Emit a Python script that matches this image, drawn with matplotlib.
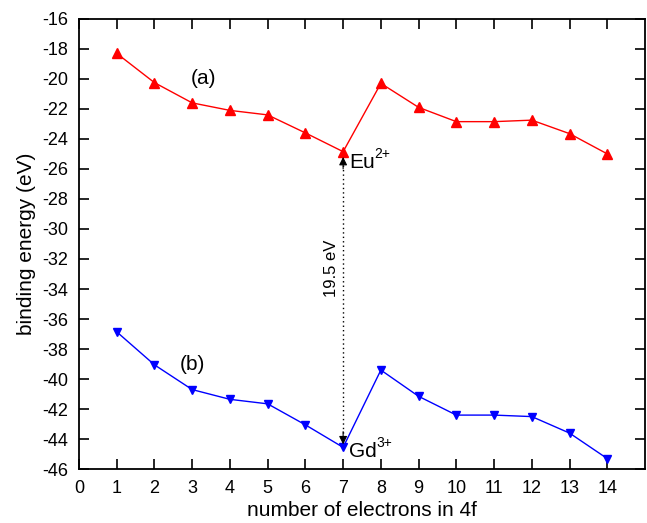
import numpy as np
import matplotlib.pyplot as plt

plt.rcParams['font.family'] = ['Liberation Sans', 'DejaVu Sans']
plt.rcParams['axes.unicode_minus'] = False

# number of electrons in 4f
n_4f = list(range(1, 15))
# (a) Eu2+ series
eu_energy = [-18.3, -20.25, -21.6, -22.1, -22.4, -23.6, -24.85,
             -20.3, -21.9, -22.85, -22.85, -22.75, -23.65, -25.0]
# (b) Gd3+ series
gd_energy = [-36.85, -39.05, -40.7, -41.35, -41.65, -43.05, -44.55,
             -39.4, -41.15, -42.4, -42.4, -42.5, -43.6, -45.3]

x_ticks = list(range(0, 15))
y_ticks = list(range(-46, -15, 2))

fig = plt.figure(figsize=(6.47, 5.23), dpi=100)
ax = fig.add_axes([0.122, 0.103, 0.875, 0.861])

ax.plot(n_4f, eu_energy, color='#ff0000', lw=1, marker='^', ms=7)
ax.plot(n_4f, gd_energy, color='#0000ff', lw=1, marker='v', ms=5.5)

''' dotted double arrow between the two minima '''
ax.vlines(7, -44.2, -25.4, colors='k', linestyles=(0, (1, 2.2)), lw=1)
ax.annotate('', xy=(7, -25.2), xytext=(7, -26.0),
            arrowprops=dict(arrowstyle='-|>', color='k', lw=0.8, mutation_scale=12, shrinkA=0, shrinkB=0))
ax.annotate('', xy=(7, -44.35), xytext=(7, -43.5),
            arrowprops=dict(arrowstyle='-|>', color='k', lw=0.8, mutation_scale=12, shrinkA=0, shrinkB=0))

ax.text(6.7, -32.6, '19.5 eV', rotation=90, ha='center', va='center', fontsize=12)

# ion labels with superscript charge
t_eu = ax.text(7.15, -25.6, 'Eu', ha='left', va='center', fontsize=15)
ax.annotate('2+', xy=(1.0, 0.62), xycoords=t_eu, ha='left', va='bottom', fontsize=10)
t_gd = ax.text(7.15, -44.85, 'Gd', ha='left', va='center', fontsize=15)
ax.annotate('3+', xy=(1.0, 0.62), xycoords=t_gd, ha='left', va='bottom', fontsize=10)

ax.text(3.3, -20.0, '(a)', ha='center', va='center', fontsize=15)
ax.text(3.0, -39.0, '(b)', ha='center', va='center', fontsize=15)

ax.set_xlim(0, 15)
ax.set_ylim(-46, -16)
ax.set_xticks(x_ticks)
ax.set_yticks(y_ticks)
ax.tick_params(which='both', direction='in', top=True, right=True, length=7, width=1.2, labelsize=13)
ax.tick_params(axis='x', pad=8)
ax.tick_params(axis='y', pad=8)
for s in ax.spines.values():
    s.set_linewidth(1.3)

ax.set_xlabel('number of electrons in 4f', fontsize=15, labelpad=3)
ax.set_ylabel('binding energy (eV)', fontsize=15, labelpad=4)

plt.savefig('out.png', dpi=100)
